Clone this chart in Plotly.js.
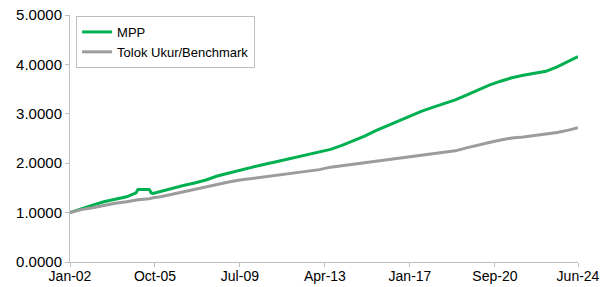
<!DOCTYPE html>
<html>
<head>
<meta charset="utf-8">
<script src="https://cdn.plot.ly/plotly-3.0.1.min.js"></script>
<style>html,body{margin:0;padding:0;background:#fff;}#chart{width:602px;height:287px;}</style>
</head>
<body>
<div id="chart"></div>
<script>
const dates = ['2002-01-01','2002-07-01','2003-01-01','2003-07-01','2004-01-01','2004-07-01','2004-12-01','2005-01-01','2005-07-01','2005-08-01','2005-09-01','2006-01-01','2006-07-01','2007-01-01','2007-07-01','2008-01-01','2008-07-01','2009-01-01','2009-07-01','2010-01-01','2010-07-01','2011-01-01','2011-07-01','2012-01-01','2012-07-01','2013-01-01','2013-07-01','2014-01-01','2014-07-01','2015-01-01','2015-07-01','2016-01-01','2016-07-01','2017-01-01','2017-07-01','2018-01-01','2018-07-01','2019-01-01','2019-07-01','2020-01-01','2020-07-01','2021-01-01','2021-07-01','2022-01-01','2022-07-01','2023-01-01','2023-07-01','2024-01-01','2024-06-01'];
const mpp = [1.00,1.08,1.15,1.22,1.27,1.32,1.40,1.47,1.47,1.40,1.39,1.43,1.50,1.55,1.60,1.66,1.74,1.80,1.86,1.92,1.97,2.02,2.07,2.12,2.17,2.22,2.28,2.36,2.45,2.55,2.66,2.76,2.86,2.96,3.05,3.13,3.20,3.28,3.38,3.48,3.58,3.66,3.73,3.78,3.82,3.86,3.95,4.06,4.16];
const benchmark = [1.00,1.06,1.10,1.15,1.19,1.22,1.25,1.26,1.28,1.29,1.30,1.32,1.37,1.42,1.48,1.53,1.58,1.62,1.66,1.69,1.72,1.75,1.78,1.80,1.83,1.87,1.92,1.95,1.98,2.01,2.04,2.07,2.10,2.13,2.16,2.19,2.21,2.25,2.31,2.37,2.42,2.47,2.51,2.53,2.56,2.58,2.62,2.67,2.72];
const tickDates = ['2002-01-01','2005-10-01','2009-07-01','2013-04-01','2017-01-01','2020-10-01','2024-06-01'];
const tickLabels = ['Jan-02','Oct-05','Jul-09','Apr-13','Jan-17','Sep-20','Jun-24'];
const seriesNames = ['MPP','Tolok Ukur/Benchmark'];

const font = 'Liberation Sans, Arial, sans-serif';
const traces = [
  {x: dates, y: mpp, name: seriesNames[0], type: 'scatter', mode: 'lines',
   line: {color: '#00b050', width: 3}},
  {x: dates, y: benchmark, name: seriesNames[1], type: 'scatter', mode: 'lines',
   line: {color: '#9c9c9c', width: 3}}
];
const layout = {
  width: 602, height: 287,
  margin: {l: 70, r: 24, t: 15, b: 25},
  paper_bgcolor: '#fff', plot_bgcolor: '#fff',
  font: {family: font, size: 15, color: '#000'},
  showlegend: true,
  legend: {x: 0.012, y: 0.996, xanchor: 'left', yanchor: 'top',
    bgcolor: '#fff', bordercolor: '#bfbfbf', borderwidth: 1,
    font: {family: font, size: 13, color: '#000'}, tracegroupgap: 0},
  xaxis: {type: 'date', range: ['2002-01-01','2024-06-01'],
    tickmode: 'array', tickvals: tickDates, ticktext: tickLabels,
    showgrid: false, zeroline: false, showline: true, linecolor: '#bfbfbf', linewidth: 1,
    ticks: 'outside', ticklen: 4, tickcolor: '#bfbfbf', ticklabelstandoff: -3,
    tickfont: {family: font, size: 14}},
  yaxis: {range: [0, 5], tickvals: [0,1,2,3,4,5], tickformat: '.4f',
    showgrid: false, zeroline: false, showline: true, linecolor: '#bfbfbf', linewidth: 1,
    ticks: 'outside', ticklen: 4, tickcolor: '#bfbfbf', tickfont: {family: font, size: 15}}
};
Plotly.newPlot('chart', traces, layout, {displayModeBar: false, staticPlot: true});
</script>
</body>
</html>
